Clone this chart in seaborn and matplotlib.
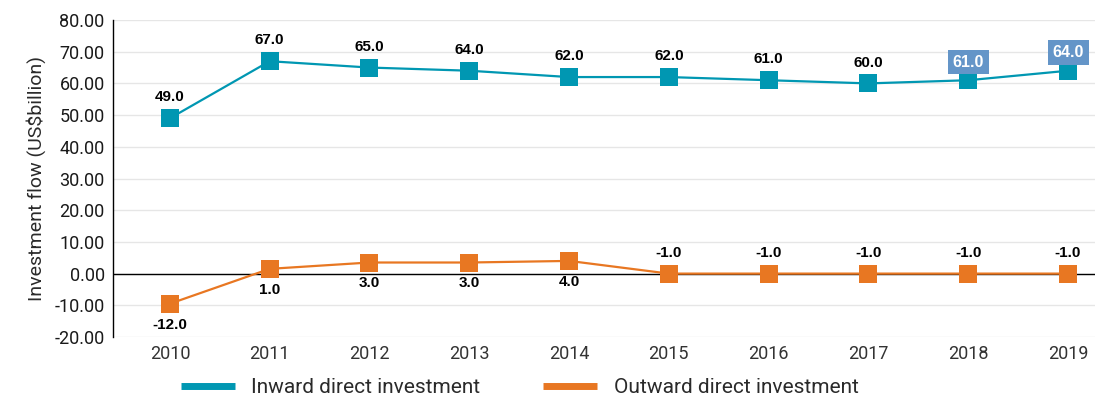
import matplotlib
matplotlib.use("Agg")
import matplotlib.pyplot as plt
import seaborn as sns
import pandas as pd
from matplotlib.lines import Line2D

years = ["2010", "2011", "2012", "2013", "2014", "2015", "2016", "2017", "2018", "2019"]
inward = [49.0, 67.0, 65.0, 64.0, 62.0, 62.0, 61.0, 60.0, 61.0, 64.0]
outward = [-9.5, 1.5, 3.5, 3.5, 4.0, 0.0, 0.0, 0.0, 0.0, 0.0]
inward_labels = ["49.0", "67.0", "65.0", "64.0", "62.0", "62.0", "61.0", "60.0", "61.0", "64.0"]
outward_labels = ["-12.0", "1.0", "3.0", "3.0", "4.0", "-1.0", "-1.0", "-1.0", "-1.0", "-1.0"]
yticks = [-20, -10, 0, 10, 20, 30, 40, 50, 60, 70, 80]

teal = "#0097B2"
orange = "#E87722"

sns.set_theme(style="white")
plt.rcParams['font.family'] = ['Roboto', 'DejaVu Sans']

fig = plt.figure(figsize=(11.01, 4.0), dpi=100)
ax = fig.add_axes([113/1101, 1-337/400, (1095-113)/1101, (337-20)/400])

df = pd.DataFrame({"x": list(range(len(years))) * 2,
                   "y": inward + outward,
                   "series": ["Inward direct investment"] * len(years) + ["Outward direct investment"] * len(years)})
sns.lineplot(data=df, x="x", y="y", hue="series", palette=[teal, orange], marker="s",
             markersize=13, markeredgewidth=0, linewidth=1.6, legend=False, ax=ax)

ax.set_xlim(-0.57, 9.27)
ax.set_ylim(-20, 80)
ax.set_yticks(yticks)
ax.set_yticklabels([f"{v:.2f}" for v in yticks], fontsize=13, color="#1a1a1a")
ax.set_xticks(range(len(years)))
ax.set_xticklabels(years, fontsize=13, color="#333333")
ax.tick_params(axis="both", length=0, pad=6)
ax.set_xlabel("")
ax.set_ylabel("Investment flow (US\\$billion)", fontsize=14, color="#2a2a2a", labelpad=6)
ax.yaxis.grid(True, color="#E6E6E6", linewidth=1)
ax.set_axisbelow(True)
for s in ["top", "right", "bottom"]:
    ax.spines[s].set_visible(False)
ax.spines["left"].set_color("black")
ax.spines["left"].set_linewidth(1)
ax.axhline(0, color="black", linewidth=1, zorder=1)

lab_font = ["Liberation Sans", "DejaVu Sans"]
for i, (v, lab) in enumerate(zip(inward, inward_labels)):
    if i >= 8:
        ax.annotate(lab, (i, v), xytext=(0, 13), textcoords="offset points", ha="center", va="center",
                    fontsize=11.5, fontweight="bold", color="white", family=lab_font,
                    bbox=dict(boxstyle="square,pad=0.3", fc="#6495C8", ec="none"))
    else:
        ax.annotate(lab, (i, v), xytext=(0, 15), textcoords="offset points", ha="center", va="center",
                    fontsize=11, fontweight="bold", color="black", family=lab_font)

for i, (v, lab) in enumerate(zip(outward, outward_labels)):
    off = 15 if lab.startswith("-1.0") else -15
    ax.annotate(lab, (i, v), xytext=(0, off), textcoords="offset points", ha="center", va="center",
                fontsize=11, fontweight="bold", color="black", family=lab_font)

handles = [Line2D([0], [0], color=teal, linewidth=5, solid_capstyle="butt"),
           Line2D([0], [0], color=orange, linewidth=5, solid_capstyle="butt")]
leg = fig.legend(handles, ["Inward direct investment", "Outward direct investment"], loc="lower center",
                 bbox_to_anchor=(0.472, -0.04), ncol=2, frameon=False, handlelength=2.6,
                 handletextpad=0.8, columnspacing=3, prop={"size": 15})
for t in leg.get_texts():
    t.set_color("#2a2a2a")

fig.savefig("out.png", dpi=100)
